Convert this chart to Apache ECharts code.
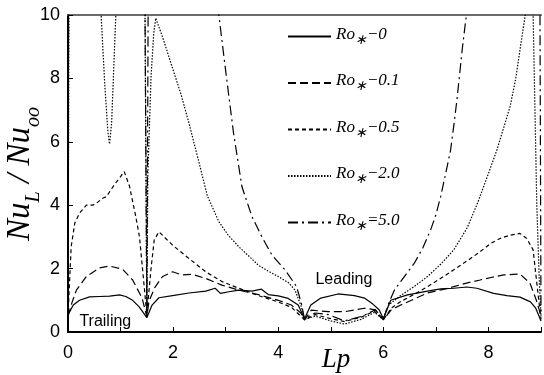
<!DOCTYPE html>
<html><head><meta charset="utf-8">
<script src="https://cdn.jsdelivr.net/npm/echarts@6/dist/echarts.min.js"></script>
<style>html,body{margin:0;padding:0;background:#fff}#c{width:544px;height:375px}</style>
</head><body><div id="c"></div>
<script>
const seriesNames = ['Ro∗−0', 'Ro∗−0.1', 'Ro∗−0.5', 'Ro∗−2.0', 'Ro∗=5.0'];
const xTickLabels = ['0', '', '2', '', '4', '', '6', '', '8', ''];
const yTickLabels = ['0', '2', '4', '6', '8', '10'];

const ro0 = [[0,0.54],[0.1,0.85],[0.22,1.0],[0.41,1.11],[0.6,1.12],[0.79,1.13],[0.98,1.17],[1.1,1.12],[1.23,1.0],[1.35,0.8],[1.43,0.62],[1.5,0.45],[1.6,0.85],[1.73,1.08],[1.99,1.15],[2.3,1.23],[2.62,1.29],[2.8,1.38],[2.9,1.22],[3.06,1.27],[3.25,1.32],[3.5,1.29],[3.68,1.35],[3.81,1.18],[4.0,1.14],[4.19,1.06],[4.38,0.85],[4.5,0.42],[4.62,0.85],[4.81,1.07],[5.14,1.2],[5.45,1.15],[5.64,1.07],[5.8,0.88],[5.92,0.7],[6.0,0.42],[6.14,1.0],[6.46,1.17],[6.84,1.29],[7.09,1.36],[7.34,1.38],[7.59,1.42],[7.78,1.38],[8.1,1.22],[8.35,1.15],[8.6,1.1],[8.8,0.95],[8.9,0.75],[9.0,0.35]];

const ro01 = [[0,0.5],[0.08,0.95],[0.16,1.32],[0.35,1.75],[0.6,2.02],[0.79,2.08],[1.04,1.98],[1.23,1.64],[1.41,1.07],[1.5,0.48],[1.54,0.96],[1.65,1.4],[1.8,1.75],[1.99,1.9],[2.17,1.8],[2.36,1.82],[2.62,1.69],[2.93,1.48],[3.25,1.32],[3.62,1.18],[4.0,1.0],[4.25,0.85],[4.43,0.6],[4.5,0.38],[4.63,0.69],[4.95,0.64],[5.26,0.64],[5.64,0.75],[5.85,0.7],[6.0,0.38],[6.15,0.7],[6.33,0.85],[6.6,1.05],[6.84,1.23],[7.1,1.33],[7.34,1.43],[7.6,1.55],[7.84,1.64],[8.05,1.72],[8.29,1.8],[8.6,1.83],[8.79,1.54],[8.91,1.01],[9.0,0.5]];

const ro05 = [[0,0.5],[0.06,2.69],[0.13,3.44],[0.22,3.75],[0.35,4.0],[0.47,4.0],[0.54,4.06],[0.66,4.22],[0.73,4.27],[0.88,4.64],[1.0,4.9],[1.07,5.06],[1.17,4.6],[1.29,3.64],[1.36,3.0],[1.42,1.96],[1.5,0.55],[1.58,2.0],[1.64,2.9],[1.73,3.16],[1.99,2.74],[2.3,2.32],[2.62,1.9],[2.93,1.59],[3.25,1.38],[3.62,1.15],[4.0,0.95],[4.25,0.78],[4.43,0.5],[4.5,0.38],[4.7,0.55],[5.0,0.42],[5.26,0.33],[5.58,0.47],[5.83,0.66],[6.0,0.38],[6.15,0.75],[6.33,0.96],[6.6,1.2],[6.84,1.43],[7.1,1.7],[7.34,1.96],[7.6,2.25],[7.84,2.53],[8.05,2.8],[8.22,2.95],[8.4,3.05],[8.6,3.11],[8.73,2.95],[8.85,2.59],[8.92,1.54],[9.0,0.4]];

const ro20 = [[0,0.5],[0.04,20],[0.55,20],[0.61,11],[0.63,10],[0.7,7.8],[0.76,6.3],[0.79,5.93],[0.83,6.6],[0.87,8.3],[0.91,10],[0.93,11],[0.98,20],[1.43,20],[1.5,0.5],[1.52,5.0],[1.58,8.05],[1.63,9.4],[1.67,9.9],[1.8,9.3],[1.98,8.37],[2.15,7.5],[2.3,6.6],[2.5,5.3],[2.65,4.3],[2.87,3.48],[3.05,3.05],[3.25,2.69],[3.45,2.38],[3.62,2.11],[3.8,1.93],[4.0,1.75],[4.2,1.55],[4.32,1.32],[4.44,0.8],[4.5,0.4],[4.7,0.5],[5.0,0.35],[5.26,0.25],[5.58,0.4],[5.83,0.62],[6.0,0.4],[6.1,0.85],[6.33,1.15],[6.6,1.45],[6.84,1.75],[7.1,2.15],[7.34,2.59],[7.6,3.3],[7.8,4.1],[8.0,5.0],[8.16,5.74],[8.3,6.5],[8.41,7.1],[8.52,8.0],[8.6,8.9],[8.7,10],[8.74,11],[8.77,20],[8.82,20],[8.85,10],[8.92,4.0],[8.97,1.5],[9.0,0.5]];

const ro50 = [[0,0.5],[0.02,20],[1.43,20],[1.5,0.5],[1.55,20],[2.75,20],[2.8,11.2],[2.87,10],[2.99,8.37],[3.15,6.27],[3.31,4.58],[3.5,3.64],[3.69,3.0],[3.88,2.43],[4.13,1.96],[4.35,1.43],[4.44,0.9],[4.5,0.42],[4.7,0.6],[4.95,0.55],[5.26,0.35],[5.6,0.5],[5.85,0.7],[6.0,0.4],[6.1,0.9],[6.21,1.32],[6.4,1.75],[6.59,2.17],[6.75,2.65],[6.9,3.22],[7.0,3.7],[7.09,4.27],[7.18,4.95],[7.28,5.74],[7.34,6.5],[7.4,7.32],[7.45,8.1],[7.5,8.9],[7.58,10],[7.62,11],[7.68,20],[8.96,20],[9.0,0.5]];

const annotations = [
  {name: 'Trailing', coord: [0.71, 0.32]},
  {name: 'Leading', coord: [5.25, 1.64]}
];

const seriesData = [ro0, ro01, ro05, ro20, ro50];
const dashTypes = ['solid', [8, 4], [4, 3], [1.5, 1.5], [10, 4, 2, 4]];

const serif = '"Liberation Serif", "Times New Roman", serif';
const sans = '"Liberation Sans", Arial, sans-serif';

const chart = echarts.init(document.getElementById('c'), null, {renderer: 'canvas'});

const series = seriesData.map((d, i) => ({
  name: seriesNames[i],
  type: 'line',
  data: d,
  symbol: 'none',
  showSymbol: false,
  clip: true,
  smooth: false,
  lineStyle: {color: '#000', width: 1.2, type: dashTypes[i]},
  itemStyle: {color: '#000'},
  z: 5 - i,
  markPoint: i === 0 ? {
    symbol: 'rect', symbolSize: 1,
    itemStyle: {color: 'rgba(0,0,0,0)'},
    label: {show: true, position: 'inside', color: '#000', fontFamily: sans, fontSize: 16, formatter: p => p.name},
    data: annotations
  } : undefined
}));

const richLegend = {
  r: {fontFamily: serif, fontStyle: 'italic', fontSize: 17, color: '#000', padding: [0, 0, 4, 0], verticalAlign: 'bottom'},
  s: {fontFamily: serif, fontStyle: 'italic', fontSize: 14, color: '#000', verticalAlign: 'bottom'}
};

chart.setOption({
  animation: false,
  backgroundColor: '#fff',
  grid: {left: 68, right: 0, top: 15, bottom: 43, containLabel: false},
  legend: {
    orient: 'vertical', left: 287, top: 26, padding: 0,
    itemWidth: 43, itemHeight: 14, itemGap: 25.5,
    data: seriesNames,
    formatter: n => '{r|' + n.slice(0, 2) + '}{s|' + n.slice(2, 3) + '}{r|' + n.slice(3) + '}',
    textStyle: {rich: richLegend, color: '#000'},
    itemStyle: {color: 'rgba(0,0,0,0)', borderColor: 'rgba(0,0,0,0)', borderWidth: 0},
    selectedMode: false
  },
  xAxis: [{
    type: 'value', min: 0, max: 9, interval: 1,
    axisLine: {show: true, onZero: false, lineStyle: {color: '#000', width: 2}},
    axisTick: {show: true, inside: true, length: 5, lineStyle: {color: '#000', width: 1}},
    axisLabel: {formatter: v => xTickLabels[Math.round(v)] || '', fontFamily: sans, fontSize: 18, color: '#000', margin: 12},
    splitLine: {show: false}
  }, {
    type: 'value', position: 'top', min: 0, max: 9,
    axisLine: {show: true, onZero: false, lineStyle: {color: '#6a6a6a', width: 2}},
    axisTick: {show: false}, axisLabel: {show: false}, splitLine: {show: false}
  }],
  yAxis: {
    type: 'value', min: 0, max: 10, interval: 2,
    axisLine: {show: true, onZero: false, lineStyle: {color: '#000', width: 2}},
    axisTick: {show: true, inside: true, length: 5, lineStyle: {color: '#000', width: 1}},
    axisLabel: {formatter: v => yTickLabels[Math.round(v / 2)], fontFamily: sans, fontSize: 18, color: '#000', margin: 8},
    splitLine: {show: false}
  },
  graphic: [
    {
      type: 'text', x: 24, y: 174, rotation: Math.PI / 2,
      style: {
        text: '{a|Nu}{b|L}{a| / Nu}{b|oo}',
        align: 'center', verticalAlign: 'middle', textAlign: 'center', textVerticalAlign: 'middle',
        rich: {
          a: {fontFamily: serif, fontStyle: 'italic', fontSize: 33, fill: '#000', padding: [0, 0, 7, 0], verticalAlign: 'bottom'},
          b: {fontFamily: serif, fontStyle: 'italic', fontSize: 20, fill: '#000', verticalAlign: 'bottom'}
        }
      }
    },
    {
      type: 'text', x: 336, y: 360,
      style: {text: 'Lp', font: 'italic 27px ' + serif, fill: '#000', align: 'center', verticalAlign: 'middle', textAlign: 'center', textVerticalAlign: 'middle'}
    }
  ],
  series: series
});
</script>
</body></html>
